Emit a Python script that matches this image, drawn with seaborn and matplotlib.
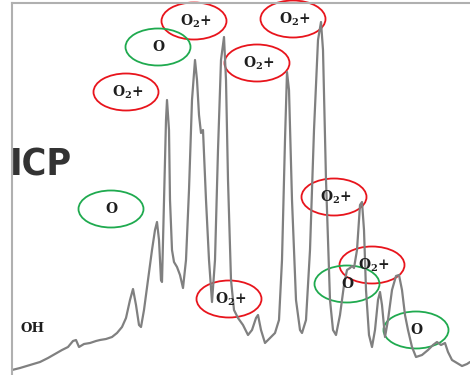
import matplotlib
matplotlib.use("Agg")
import matplotlib.pyplot as plt
import seaborn as sns
import pandas as pd
from matplotlib.patches import Ellipse

# spectrum trace (position, intensity)
position = [12, 20, 30, 40, 48, 55, 62, 68, 73, 76, 79, 84, 90, 96, 100, 106, 112, 117, 122, 126,
            130, 133, 136, 139, 141, 144, 148, 152, 155, 157, 159, 161, 162, 164, 166, 167, 169, 170, 172, 174,
            177, 180, 183, 186, 189, 192, 195, 197, 199, 201, 203, 206, 209, 212, 215, 218, 221, 224, 226, 228,
            231, 234, 238, 243, 248, 252, 256, 258, 261, 265, 270, 275, 279, 282, 285, 287, 289, 292, 296, 300,
            302, 306, 310, 314, 318, 321, 323, 326, 330, 333, 336, 340, 344, 347, 350, 352, 354, 357, 360, 362,
            364, 366, 369, 372, 375, 378, 380, 382, 385, 388, 392, 396, 399, 402, 405, 408, 412, 416, 422, 428,
            433, 437, 441, 445, 448, 452, 457, 462, 467, 470]
intensity = [5, 7, 10, 13, 17, 21, 25, 28, 34, 35, 28, 31, 32, 34, 35, 36, 38, 42, 48, 57,
             75, 86, 70, 50, 48, 65, 95, 125, 145, 153, 135, 95, 93, 175, 255, 275, 245, 175, 125, 113,
             108, 100, 87, 115, 185, 275, 315, 295, 260, 242, 245, 175, 115, 73, 115, 225, 315, 338, 295, 195,
             95, 65, 57, 50, 40, 45, 57, 60, 45, 32, 37, 42, 55, 115, 235, 303, 285, 175, 75, 45,
             42, 55, 125, 245, 335, 353, 325, 195, 75, 45, 40, 60, 90, 105, 107, 109, 107, 125, 170, 173,
             145, 85, 40, 28, 45, 75, 83, 70, 38, 55, 85, 99, 100, 85, 60, 45, 28, 18, 20, 25,
             30, 33, 30, 32, 23, 15, 12, 9, 11, 13]

# annotation labels: text, centre x, centre y, colour
label_text = [r"O$_{\mathbf{2}}$+"] * 7 + ["O"] * 4
label_x = [194, 126, 257, 293, 334, 372, 229, 158, 111, 347, 416]
label_y = [354, 283, 312, 356, 178, 110, 76, 328, 166, 91, 45]
label_kind = ["ion"] * 7 + ["atom"] * 4

df = pd.DataFrame({"position": position, "intensity": intensity})

sns.set_style("white")
plt.rcParams["mathtext.fontset"] = "dejavuserif"
fig = plt.figure(figsize=(4.7, 3.75), dpi=100)
ax = fig.add_axes([12 / 470, 0, 458 / 470, 372 / 375])

sns.lineplot(data=df, x="position", y="intensity", estimator=None, sort=False,
             color="#808080", lw=1.6, ax=ax)

colors = {"ion": "#e8141c", "atom": "#1faa4f"}
for t, x, y, k in zip(label_text, label_x, label_y, label_kind):
    ax.add_patch(Ellipse((x, y), 65, 37, fill=False, ec=colors[k], lw=1.3, clip_on=False))
    dx = 2 if k == "ion" else 0
    ax.text(x + dx, y, t, ha="center", va="center", fontsize=10, fontweight="bold",
            family="DejaVu Serif", color="#1e1e1e")

ax.text(33, 47, "OH", ha="center", va="center", fontsize=9.5, fontweight="bold",
        family="DejaVu Serif", color="#1e1e1e")

fig.text(10 / 470, 1 - 175 / 375, "ICP", ha="left", va="baseline", fontsize=27,
         fontweight="bold", fontstretch="condensed", family="DejaVu Sans", color="#333333")

ax.set_xlim(12, 470)
ax.set_ylim(0, 372)
ax.set_xticks([])
ax.set_yticks([])
ax.set_xlabel("")
ax.set_ylabel("")
for side in ["right", "bottom"]:
    ax.spines[side].set_visible(False)
for side in ["left", "top"]:
    ax.spines[side].set_color("#b0b0b0")
    ax.spines[side].set_linewidth(1.5)

fig.savefig("out.png", dpi=100)
